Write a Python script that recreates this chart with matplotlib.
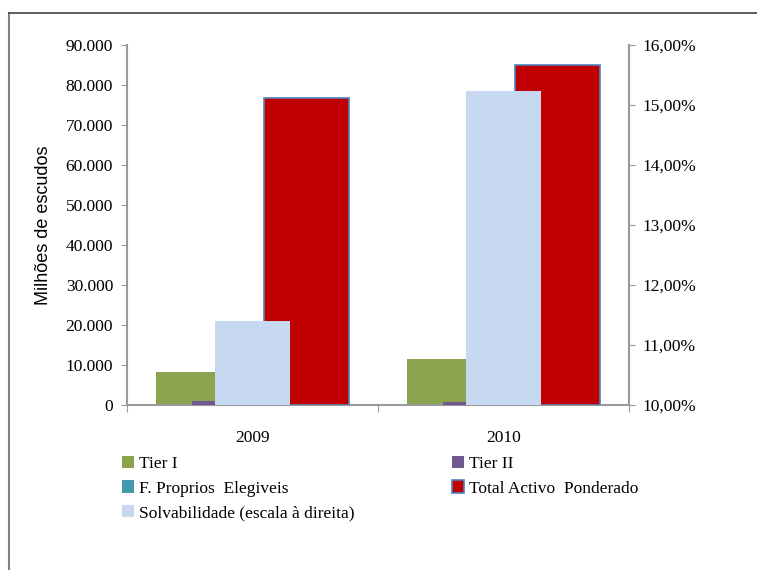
import matplotlib
matplotlib.use("Agg")
import matplotlib.pyplot as plt
from matplotlib.lines import Line2D
from matplotlib.patches import Patch
from matplotlib.ticker import FuncFormatter
import numpy as np

years = ["2009", "2010"]
tier1 = [8250, 11500]
tier2 = [1000, 800]
fpe = [300, 300]
total_activo = [76800, 84900]
solvabilidade = [11.40, 15.23]

GREEN = "#8BA54E"
PURPLE = "#71588F"
TEAL = "#4198AF"
RED = "#C00000"
EDGE = "#4F81BD"
LIGHT = "#C6D9F1"
AXIS = "#9a9a9a"
SERIF = "Liberation Serif"

fig = plt.figure(figsize=(7.57, 5.70), dpi=100)
ax = fig.add_axes([127 / 757, 1 - 405 / 570, 502 / 757, 360 / 570])
ax2 = ax.twinx()

x = np.arange(len(years))
w = 0.339
step = 0.144
ax.bar(x - 1.5 * step, tier1, w, color=GREEN, zorder=2)
ax.bar(x - 0.5 * step, tier2, w, color=PURPLE, zorder=3)
ax.bar(x + 0.5 * step, fpe, w, color=TEAL, zorder=4)
ax.bar(x + 1.5 * step, total_activo, w, color=RED, edgecolor=EDGE,
       linewidth=1.2, zorder=5)
ax2.bar(x, solvabilidade, 0.30, color=LIGHT, zorder=2)

ax.set_xlim(-0.5, 1.5)
ax.set_ylim(0, 90000)
ax.set_yticks(np.arange(0, 90001, 10000))
ax.yaxis.set_major_formatter(FuncFormatter(
    lambda v, p: f"{int(v):,}".replace(",", ".")))
ax2.set_ylim(10, 16)
ax2.set_yticks(np.arange(10, 16.01, 1))
ax2.yaxis.set_major_formatter(FuncFormatter(
    lambda v, p: f"{v:.2f}%".replace(".", ",")))

ax.set_xticks([-0.5, 0.5, 1.5])
ax.set_xticklabels([])
ax.set_xticks(x, minor=True)
ax.set_xticklabels(years, minor=True, fontfamily=SERIF, fontsize=12.5)
ax.tick_params(axis="x", which="minor", length=0, pad=18)
ax.tick_params(axis="x", which="major", length=5, color=AXIS, direction="out")

for a in (ax, ax2):
    for s in a.spines.values():
        s.set_visible(False)
    a.set_facecolor("none")
ax.spines["left"].set_visible(True)
ax.spines["bottom"].set_visible(True)
ax2.spines["right"].set_visible(True)
for s in (ax.spines["left"], ax.spines["bottom"], ax2.spines["right"]):
    s.set_color(AXIS)
    s.set_linewidth(1.5)

ax.tick_params(axis="y", length=4, color=AXIS, pad=6, labelsize=12.5)
ax2.tick_params(axis="y", length=4, color=AXIS, pad=6, labelsize=12.5)
for lab in ax.get_yticklabels() + ax2.get_yticklabels():
    lab.set_fontfamily(SERIF)

ax.set_ylabel("Milhões de escudos", fontsize=13, fontfamily="Liberation Sans",
              labelpad=10)

# frame round the chart (only left and top edges are visible)
fig.add_artist(Line2D([9 / 757, 9 / 757], [0, 1 - 13 / 570], color="#808080",
                      lw=1.5, transform=fig.transFigure))
fig.add_artist(Line2D([9 / 757, 1], [1 - 13 / 570, 1 - 13 / 570],
                      color="#404040", lw=1.2, transform=fig.transFigure))

handles = [
    Patch(facecolor=GREEN, label="Tier I"),
    Patch(facecolor=PURPLE, label="Tier II"),
    Patch(facecolor=TEAL, label="F. Proprios  Elegiveis"),
    Patch(facecolor=RED, edgecolor=EDGE, linewidth=1.2,
          label="Total Activo  Ponderado"),
    Patch(facecolor=LIGHT, label="Solvabilidade (escala à direita)"),
]
order = [0, 2, 4, 1, 3]
leg = fig.legend([handles[i] for i in order], [handles[i].get_label() for i in order],
                 ncol=2, loc="upper left", bbox_to_anchor=(106 / 757, 1 - 440 / 570),
                 frameon=False, prop={"family": SERIF, "size": 12.5},
                 handlelength=0.7, handleheight=0.7, handletextpad=0.3,
                 columnspacing=5.6, labelspacing=0.5)

fig.savefig("out.png", dpi=100)
